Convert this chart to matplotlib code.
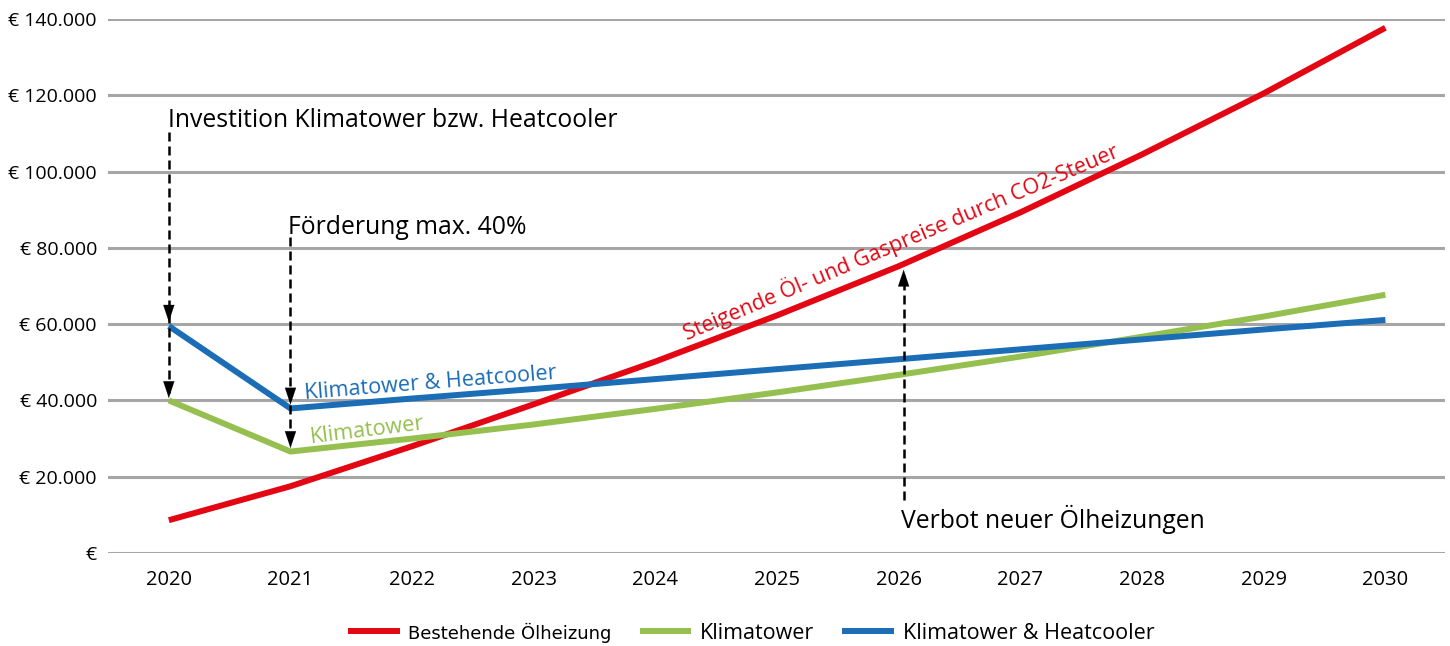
import matplotlib
matplotlib.use("Agg")
import matplotlib.pyplot as plt
from matplotlib.ticker import FuncFormatter

years = [2020, 2021, 2022, 2023, 2024, 2025, 2026, 2027, 2028, 2029, 2030]
oel = [8600, 17500, 28000, 39000, 50200, 62300, 75200, 89300, 104500, 120500, 137700]
klimatower = [40000, 26600, 30000, 33700, 37800, 42100, 46700, 51500, 56700, 62000, 67700]
klima_heat = [59500, 37900, 40500, 43000, 45600, 48200, 50800, 53400, 56000, 58600, 61100]

series_names = ["Bestehende Ölheizung", "Klimatower", "Klimatower & Heatcooler"]
colors = ["#e30613", "#95c04f", "#1b6db6"]

plt.rcParams['font.family'] = ['Open Sans', 'DejaVu Sans']

fig = plt.figure(figsize=(14.5, 6.46), dpi=100)
ax = fig.add_axes([108 / 1450, 93 / 646, 1337 / 1450, 534 / 646])

for vals, name, c in zip([oel, klimatower, klima_heat], series_names, colors):
    ax.plot(years, vals, color=c, lw=4.3, label=name, solid_capstyle='butt', zorder=3)

ax.set_xlim(2019.5, 2030.49)
ax.set_ylim(0, 140000)
ax.set_yticks(range(0, 140001, 20000))
ax.set_xticks(years)
ax.yaxis.set_major_formatter(FuncFormatter(
    lambda v, p: "€" if v == 0 else "€ " + f"{int(v):,}".replace(",", ".")))
ax.grid(axis='y', color='#a6a6a6', lw=2.2, zorder=0)
ax.tick_params(length=0)
ax.tick_params(axis='y', pad=8, labelsize=14)
ax.tick_params(axis='x', pad=12, labelsize=14.5)
for s in ax.spines.values():
    s.set_visible(False)

# dashed guide lines with arrow heads
dash = (0, (3.6, 2))
def guide(x, y0, y1, tips):
    ax.plot([x, x], [y0, y1], color='black', lw=1.8, ls=dash, zorder=4)
    for tip, up in tips:
        tail = tip - 3000 if up else tip + 3000
        ax.annotate('', xy=(x, tip), xytext=(x, tail),
                    arrowprops=dict(arrowstyle='-|>,head_length=0.6,head_width=0.2',
                                    color='black', lw=0.1, mutation_scale=20,
                                    shrinkA=0, shrinkB=0), zorder=5)

guide(2020, 110400, 41500, [(60600, False), (40600, False)])
guide(2021, 82800, 28000, [(38900, False), (27500, False)])
guide(2026.04, 13900, 73000, [(74300, True)])

ax.text(2019.99, 113500, "Investition Klimatower bzw. Heatcooler", fontsize=17.8,
        va='center', ha='left')
ax.text(2020.98, 85400, "Förderung max. 40%", fontsize=17.8, va='center', ha='left')
ax.text(2026.02, 8900, "Verbot neuer Ölheizungen", fontsize=17.8, va='center', ha='left')

ax.text(2021.12, 40300, "Klimatower & Heatcooler", color=colors[2], fontsize=15.6,
        rotation=4.6, rotation_mode='anchor', ha='left', va='baseline')
ax.text(2021.17, 28800, "Klimatower", color=colors[1], fontsize=15.6,
        rotation=7, rotation_mode='anchor', ha='left', va='baseline')
ax.text(2024.26, 55800, "Steigende Öl- und Gaspreise durch CO2-Steuer", color=colors[0],
        fontsize=15.5, rotation=23, rotation_mode='anchor', ha='left', va='baseline')

leg = fig.legend(loc='center', bbox_to_anchor=(0.518, 0.02), ncol=3, frameon=False,
                 fontsize=15.5, handlelength=2.4, handletextpad=0.4, columnspacing=1.3)
leg.get_texts()[0].set_fontsize(13)
leg.get_texts()[0].set_family(['Liberation Sans Narrow', 'DejaVu Sans'])

fig.savefig("out.png", dpi=100)
